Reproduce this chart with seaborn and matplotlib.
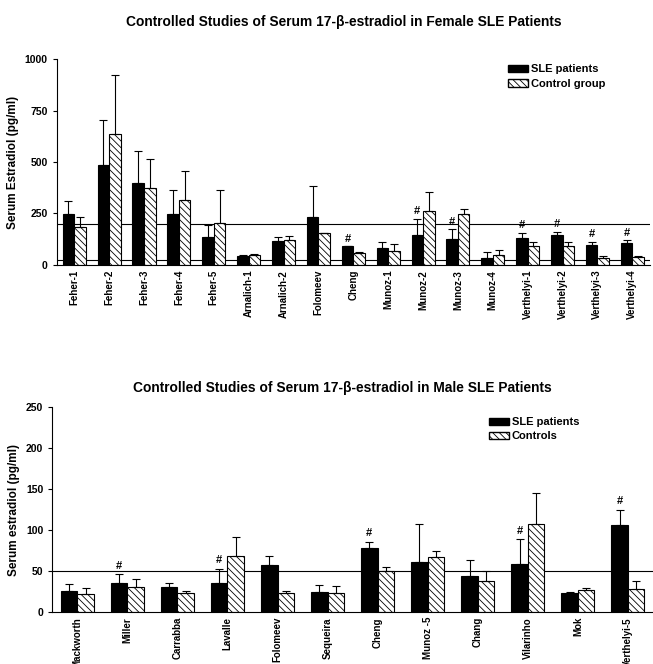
import matplotlib
matplotlib.use("Agg")
import matplotlib.pyplot as plt
from matplotlib.patches import Patch
import seaborn as sns
import pandas as pd

# --- data: female studies ---
f_studies = ['Feher-1', 'Feher-2', 'Feher-3', 'Feher-4', 'Feher-5', 'Arnalich-1', 'Arnalich-2',
             'Folomeev', 'Cheng', 'Munoz-1', 'Munoz-2', 'Munoz-3', 'Munoz-4',
             'Verthelyi-1', 'Verthelyi-2', 'Verthelyi-3', 'Verthelyi-4']
f_sle = [246, 485, 396, 248, 134, 45, 116, 231, 92, 83, 144, 125, 32, 131, 144, 97, 107]
f_sle_sd = [65, 219, 159, 114, 59, 4, 18, 152, 0, 29, 81, 48, 31, 26, 18, 16, 14]
f_ctrl = [183, 636, 372, 315, 205, 50, 121, 154, 57, 70, 260, 248, 49, 92, 94, 34, 39]
f_ctrl_sd = [52, 289, 143, 140, 159, 3, 20, 3, 4, 34, 96, 22, 22, 21, 19, 8, 5]
f_sig = [False] * 8 + [True, False, True, True, False, True, True, True, True]

# --- data: male studies ---
m_studies = ['Mackworth', 'Miller', 'Carrabba', 'Lavalle', 'Folomeev', 'Sequeira', 'Cheng',
             'Munoz -5', 'Chang', 'Vilarinho', 'Mok', 'Verthelyi-5']
m_sle = [26, 35, 31, 36, 58, 25, 78, 61, 44, 59, 23, 106]
m_sle_sd = [8, 11, 5, 17, 10, 8, 8, 47, 20, 30, 2, 19]
m_ctrl = [22, 31, 24, 68, 24, 23, 50, 67, 38, 107, 27, 28]
m_ctrl_sd = [7, 9, 2, 24, 2, 9, 5, 8, 12, 38, 2, 10]
m_sig = [False, True, False, True, False, False, True, False, False, True, False, True]

plt.rcParams['font.family'] = ['Liberation Sans', 'DejaVu Sans']
plt.rcParams['hatch.linewidth'] = 0.6
HATCH = '\\\\\\\\\\'

fig = plt.figure(figsize=(6.53, 6.64), dpi=100)
ax1 = fig.add_axes([0.087, 0.601, 0.908, 0.31])
ax2 = fig.add_axes([0.080, 0.078, 0.92, 0.309])


def panel(ax, studies, sle, sle_sd, ctrl, ctrl_sd, labels):
    df = pd.DataFrame({
        'study': studies * 2,
        'value': sle + ctrl,
        'group': [labels[0]] * len(studies) + [labels[1]] * len(studies),
    })
    sns.barplot(data=df, x='study', y='value', hue='group', palette=['black', 'white'],
                saturation=1, errorbar=None, width=0.66, edgecolor='black',
                linewidth=0.8, legend=False, ax=ax)
    n = len(studies)
    bars = ax.patches[:2 * n]
    for b in bars[n:]:
        b.set_hatch(HATCH)
    xs_s = [b.get_x() + b.get_width() / 2 for b in bars[:n]]
    xs_c = [b.get_x() + b.get_width() / 2 for b in bars[n:]]
    ax.errorbar(xs_s, sle, yerr=[[0] * n, sle_sd], fmt='none', ecolor='black',
                elinewidth=0.8, capsize=3, capthick=0.8)
    ax.errorbar(xs_c, ctrl, yerr=[[0] * n, ctrl_sd], fmt='none', ecolor='black',
                elinewidth=0.8, capsize=3, capthick=0.8)
    ax.legend(handles=[Patch(facecolor='black', edgecolor='black', label=labels[0]),
                       Patch(facecolor='white', edgecolor='black', hatch=HATCH, label=labels[1])],
              frameon=False, prop={'weight': 'bold', 'size': 8},
              handlelength=1.8, handleheight=0.6, handletextpad=0.3, labelspacing=0.4)
    return xs_s


# top panel
xs = panel(ax1, f_studies, f_sle, f_sle_sd, f_ctrl, f_ctrl_sd, ['SLE patients', 'Control group'])
for x, v, s, flag in zip(xs, f_sle, f_sle_sd, f_sig):
    if flag:
        ax1.text(x, v + s + 12, '#', ha='center', va='bottom', fontsize=8, fontweight='bold')
ax1.axhline(200, color='black', lw=0.8, zorder=0)
ax1.axhline(22, color='black', lw=0.8, zorder=0)
ax1.set_ylim(0, 1000)
ax1.set_yticks([0, 250, 500, 750, 1000])
ax1.set_xlim(-0.5, len(f_studies) - 0.5)
ax1.set_ylabel('Serum Estradiol (pg/ml)', fontsize=8.5, fontweight='bold')
ax1.set_xlabel('')
fig.text(0.527, 0.967, 'Controlled Studies of Serum 17-β-estradiol in Female SLE Patients',
         ha='center', va='center', fontsize=9.9, fontweight='bold')
ax1.get_legend().set_bbox_to_anchor((0.762, 0.918), transform=fig.transFigure)
ax1.get_legend().set_loc('upper left')

# bottom panel
xs = panel(ax2, m_studies, m_sle, m_sle_sd, m_ctrl, m_ctrl_sd, ['SLE patients', 'Controls'])
for x, v, s, flag in zip(xs, m_sle, m_sle_sd, m_sig):
    if flag:
        ax2.text(x, v + s + 4, '#', ha='center', va='bottom', fontsize=8, fontweight='bold')
ax2.axhline(50, color='black', lw=0.8, zorder=0)
ax2.set_ylim(0, 250)
ax2.set_yticks([0, 50, 100, 150, 200, 250])
ax2.set_xlim(-0.5, len(m_studies) - 0.5)
ax2.set_ylabel('Serum estradiol (pg/ml)', fontsize=8.5, fontweight='bold')
ax2.set_xlabel('')
fig.text(0.525, 0.416, 'Controlled Studies of Serum 17-β-estradiol in Male SLE Patients',
         ha='center', va='center', fontsize=9.9, fontweight='bold')
ax2.get_legend().set_bbox_to_anchor((0.733, 0.387), transform=fig.transFigure)
ax2.get_legend().set_loc('upper left')

for ax in (ax1, ax2):
    sns.despine(ax=ax)
    ax.tick_params(axis='x', rotation=90, labelsize=7, length=0)
    ax.tick_params(axis='y', labelsize=7.5, length=3)
    for lab in ax.get_xticklabels() + ax.get_yticklabels():
        lab.set_fontweight('bold')
    ax.spines['left'].set_linewidth(0.8)
    ax.spines['bottom'].set_linewidth(0.8)

fig.savefig('out.png', dpi=100)
